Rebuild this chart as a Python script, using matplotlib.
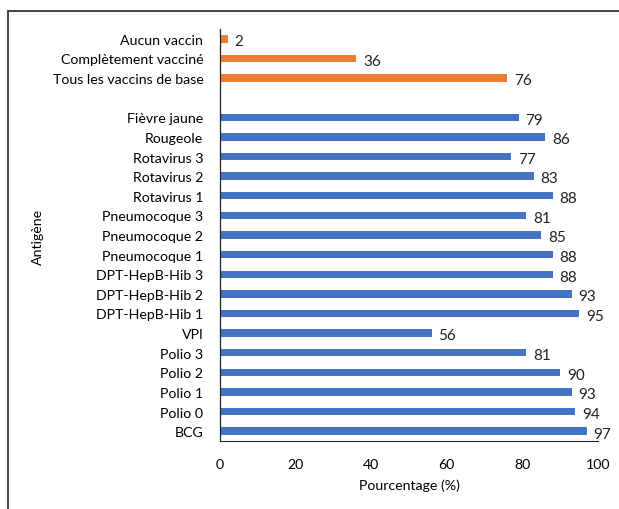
import matplotlib
matplotlib.use("Agg")
import matplotlib.pyplot as plt
from matplotlib.patches import Rectangle

plt.rcParams['font.family'] = ['Lato', 'DejaVu Sans']

antigens = ["BCG", "Polio 0", "Polio 1", "Polio 2", "Polio 3", "VPI",
            "DPT-HepB-Hib 1", "DPT-HepB-Hib 2", "DPT-HepB-Hib 3",
            "Pneumocoque 1", "Pneumocoque 2", "Pneumocoque 3",
            "Rotavirus 1", "Rotavirus 2", "Rotavirus 3", "Rougeole", "Fièvre jaune"]
antigen_values = [97, 94, 93, 90, 81, 56, 95, 93, 88, 88, 85, 81, 88, 83, 77, 86, 79]

summary = ["Tous les vaccins de base", "Complètement vacciné", "Aucun vaccin"]
summary_values = [76, 36, 2]

blue = "#4472C4"
orange = "#ED7D31"

fig = plt.figure(figsize=(6.19, 5.10), dpi=100)
ax = fig.add_axes([220/619, 1-442/510, (598-220)/619, (442-30)/510])

pos_a = list(range(len(antigens)))
pos_s = [len(antigens) + 1 + i for i in range(len(summary))]

ax.barh(pos_a, antigen_values, height=0.38, color=blue)
ax.barh(pos_s, summary_values, height=0.38, color=orange)

for p, v in zip(pos_a + pos_s, antigen_values + summary_values):
    ax.text(v + 1.8, p - 0.12, str(v), va="center", ha="left", fontsize=11, color="#222222")

ax.set_yticks(pos_a + pos_s)
ax.set_yticklabels(antigens + summary, fontsize=10.2)
ax.set_ylim(-0.5, pos_s[-1] + 0.5)
ax.set_xlim(0, 100)
ax.set_xticks([0, 20, 40, 60, 80, 100])
ax.tick_params(axis="both", length=0, labelsize=10.2)
ax.tick_params(axis="x", pad=12)
ax.tick_params(axis="y", pad=12)
for s in ["top", "right"]:
    ax.spines[s].set_visible(False)
ax.spines["left"].set_color("#222222")
ax.spines["left"].set_linewidth(0.9)
ax.spines["bottom"].set_color("#222222")
ax.spines["bottom"].set_linewidth(0.8)

ax.set_xlabel("Pourcentage (%)", fontsize=10.2, labelpad=6)
fig.text(38/619, 1-237/510, "Antigène", rotation=90, va="center", ha="center", fontsize=10.2)

fig.patches.append(Rectangle((8/619, -0.05), 1.1, 1-12/510 + 0.05, transform=fig.transFigure,
                             fill=False, edgecolor="#222222", linewidth=1.2))

fig.savefig("out.png", dpi=100)
